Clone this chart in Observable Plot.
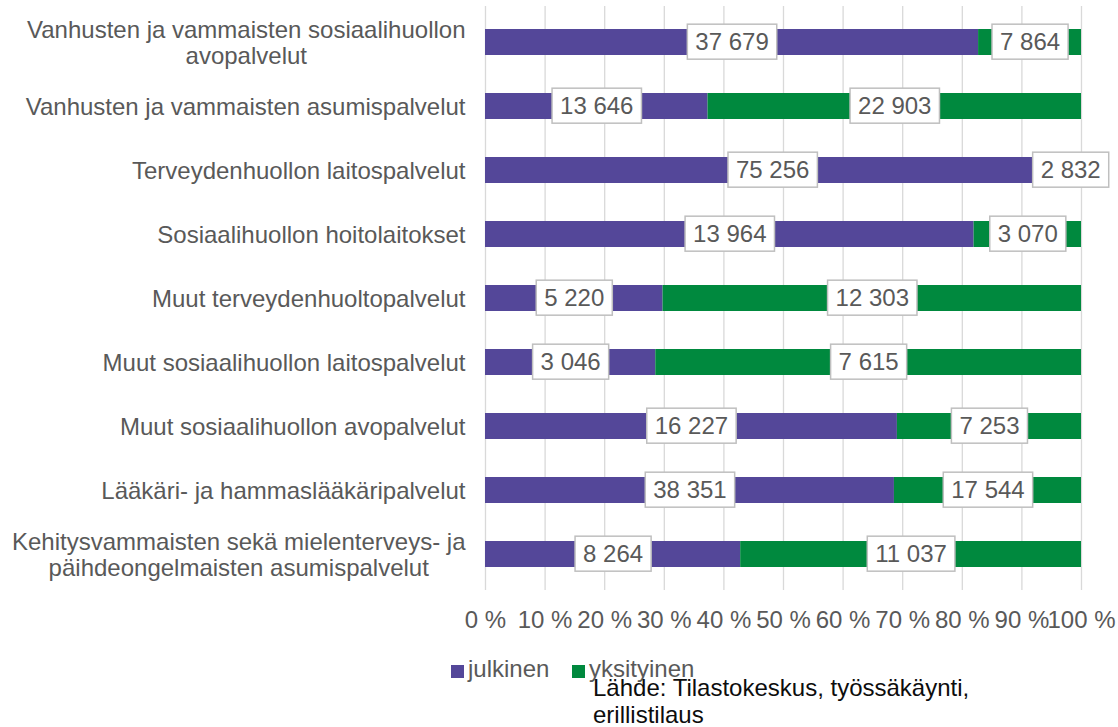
<!DOCTYPE html>
<html>
<head>
<meta charset="utf-8">
<script src="https://cdn.jsdelivr.net/npm/d3@7"></script>
<script src="https://cdn.jsdelivr.net/npm/@observablehq/plot@0.6"></script>
<style>
  body { margin: 0; background: #fff; }
  #wrap { position: relative; width: 1118px; height: 727px; font-family: "Liberation Sans", Arial, sans-serif; }
  .leg-sq { position: absolute; width: 13px; height: 13px; }
  .leg-tx { position: absolute; font-size: 24px; line-height: 24px; color: #595959; white-space: nowrap; }
  #caption { position: absolute; left: 593px; top: 674px; font-size: 24px; line-height: 27px; color: #0d0d0d; white-space: nowrap; }
</style>
</head>
<body>
<div id="wrap">
  <div id="chart"></div>
  <div id="legend"></div>
  <div id="caption">Lähde: Tilastokeskus, työssäkäynti,<br>erillistilaus</div>
</div>
<script>
const categories = [
  "Vanhusten ja vammaisten sosiaalihuollon\navopalvelut",
  "Vanhusten ja vammaisten asumispalvelut",
  "Terveydenhuollon laitospalvelut",
  "Sosiaalihuollon hoitolaitokset",
  "Muut terveydenhuoltopalvelut",
  "Muut sosiaalihuollon laitospalvelut",
  "Muut sosiaalihuollon avopalvelut",
  "Lääkäri- ja hammaslääkäripalvelut",
  "Kehitysvammaisten sekä mielenterveys- ja\npäihdeongelmaisten asumispalvelut"
];
const julkinen   = [37679, 13646, 75256, 13964, 5220, 3046, 16227, 38351, 8264];
const yksityinen = [7864, 22903, 2832, 3070, 12303, 7615, 7253, 17544, 11037];
const seriesNames = ["julkinen", "yksityinen"];
const seriesColors = ["#544799", "#00893e"];
const xTicks = [0, 10, 20, 30, 40, 50, 60, 70, 80, 90, 100];

const rows = categories.flatMap((c, i) => [
  {cat: c, type: seriesNames[0], value: julkinen[i]},
  {cat: c, type: seriesNames[1], value: yksityinen[i]}
]);

const fiLocale = d3.formatLocale({decimal: ",", thousands: "\u00a0", grouping: [3], currency: ["", " €"]});
const fmt = fiLocale.format(",d");

const FONT = "'Liberation Sans', Arial, sans-serif";
const ctx = document.createElement("canvas").getContext("2d");
ctx.font = `24px ${FONT}`;
const maxLineW = s => Math.max(...s.split("\n").map(l => ctx.measureText(l).width));

const labelMarks = categories.map(c => {
  const multi = c.includes("\n");
  return Plot.text([c], {
    y: d => d,
    text: d => d,
    frameAnchor: "left",
    textAnchor: multi ? "middle" : "end",
    dx: multi ? -20 - maxLineW(c) / 2 : -20,
    lineHeight: 1.083,
    fontSize: 24,
    fill: "#595959"
  });
});

const chart = Plot.plot({
  width: 1118,
  height: 640,
  marginLeft: 485,
  marginRight: 37,
  marginTop: 6,
  marginBottom: 50,
  style: {fontFamily: FONT, fontSize: "24px", background: "white", overflow: "visible"},
  x: {domain: [0, 1], axis: null},
  y: {domain: categories, paddingInner: 0.6, paddingOuter: 0.3, axis: null},
  color: {domain: seriesNames, range: seriesColors},
  marks: [
    Plot.gridX(xTicks.map(t => t / 100), {stroke: "#d9d9d9", strokeOpacity: 1, strokeWidth: 1.3}),
    Plot.axisX(xTicks.map(t => t / 100), {
      tickSize: 0, tickPadding: 20, fontSize: 24, fill: "#595959", label: null,
      tickFormat: d => `${Math.round(d * 100)} %`
    }),
    Plot.barX(rows, Plot.stackX({x: "value", y: "cat", fill: "type", offset: "normalize"})),
    Plot.text(rows, Plot.stackX({
      x: "value", y: "cat", z: "type", offset: "normalize",
      text: d => fmt(d.value), fill: "#595959", fontSize: 24, ariaLabel: () => "bar-label"
    })),
    ...labelMarks
  ]
});
document.getElementById("chart").appendChild(chart);

// white boxes behind the segment labels
chart.querySelectorAll('text[aria-label="bar-label"]').forEach(t => {
  const b = t.getBBox();
  const cx = b.x + b.width / 2, cy = b.y + b.height / 2;
  const w = b.width + 16, h = 35;
  const r = document.createElementNS("http://www.w3.org/2000/svg", "rect");
  r.setAttribute("x", cx - w / 2);
  r.setAttribute("y", cy - h / 2);
  r.setAttribute("width", w);
  r.setAttribute("height", h);
  r.setAttribute("fill", "white");
  r.setAttribute("stroke", "#bfbfbf");
  r.setAttribute("stroke-width", 1.5);
  const tr = t.getAttribute("transform");
  if (tr) r.setAttribute("transform", tr);
  t.parentNode.insertBefore(r, t);
});

// legend
const legend = document.getElementById("legend");
const legX = [451, 572];
seriesNames.forEach((n, i) => {
  const sq = document.createElement("div");
  sq.className = "leg-sq";
  sq.style.left = legX[i] + "px";
  sq.style.top = "665px";
  sq.style.background = seriesColors[i];
  const tx = document.createElement("div");
  tx.className = "leg-tx";
  tx.style.left = (legX[i] + 17) + "px";
  tx.style.top = "657px";
  tx.textContent = n;
  legend.appendChild(sq);
  legend.appendChild(tx);
});
</script>
</body>
</html>
